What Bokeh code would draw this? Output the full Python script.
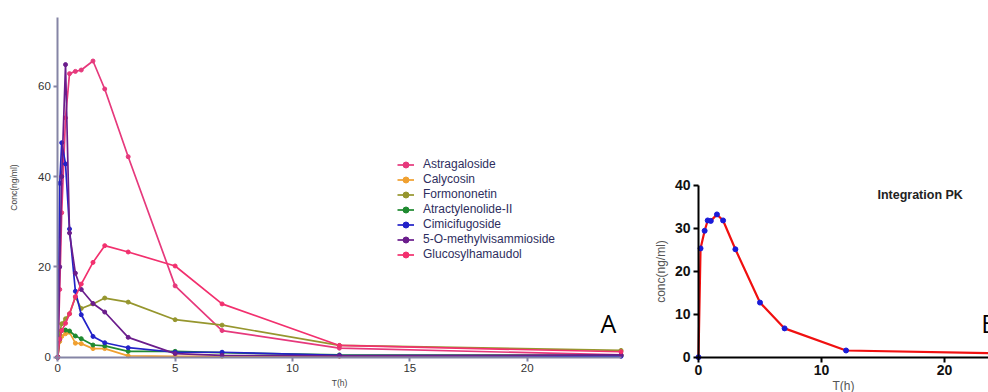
from bokeh.plotting import figure
from bokeh.layouts import row
from bokeh.models import Range1d, FixedTicker, Legend
from bokeh.core.properties import value
from bokeh.embed import file_html
from bokeh.resources import INLINE

# ---------------- data (panel A) ----------------
t_a = [0, 0.083, 0.167, 0.33, 0.5, 0.75, 1, 1.5, 2, 3, 5, 7, 12, 24]
astragaloside = [0, 15, 32, 53, 62.8, 63.3, 63.6, 65.6, 59.4, 44.4, 15.8, 5.9, 2.0, 0.5]
calycosin = [0, 3.5, 4.6, 5.2, 5.5, 3.1, 3.0, 1.9, 1.9, 0.3, 0.2, 0.2, 0.2, 0.3]
formononetin = [0, 5.5, 7.4, 8.5, 9.6, 13.3, 10.8, 11.8, 13.1, 12.2, 8.3, 7.1, 2.6, 1.5]
atractylenolide = [0, 4.0, 5.9, 6.0, 5.8, 4.7, 4.1, 2.7, 2.5, 1.3, 1.3, 1.0, 0.5, 0.4]
cimicifugoside = [0, 38.5, 47.5, 42.8, 28.4, 14.6, 9.4, 4.6, 3.2, 2.1, 1.1, 1.1, 0.4, 0.2]
methylvisammioside = [0, 20, 40, 64.8, 27.5, 18.6, 15.0, 11.9, 10.0, 4.4, 0.8, 0.4, 0.3, 0.5]
glucosylhamaudol = [0, 4.0, 5.9, 7.5, 9.6, 13.4, 16.2, 21.0, 24.7, 23.3, 20.2, 11.8, 2.6, 1.2]

series_names = ["Astragaloside", "Calycosin", "Formononetin", "Atractylenolide-II",
                "Cimicifugoside", "5-O-methylvisammioside", "Glucosylhamaudol"]
series_values = [astragaloside, calycosin, formononetin, atractylenolide,
                 cimicifugoside, methylvisammioside, glucosylhamaudol]
series_colors = ["#e6397c", "#f0a030", "#96962e", "#1f8a30",
                 "#2222c8", "#6b1d8c", "#f2306e"]

ticks_a_x = [0, 5, 10, 15, 20]
ticks_a_y = [0, 20, 40, 60]

# ---------------- data (panel B) ----------------
t_b = [0, 0.167, 0.5, 0.75, 1, 1.5, 2, 3, 5, 7, 12, 24]
integration_pk = [0, 25.3, 29.4, 31.8, 31.7, 33.2, 31.8, 25.1, 12.7, 6.7, 1.56, 0.9]
ticks_b_x = [0, 10, 20]
ticks_b_y = [0, 10, 20, 30, 40]

FONT = "Liberation Sans"

# ================= Panel A =================
pa = figure(width=640, height=392, output_backend="svg", toolbar_location=None,
            x_range=Range1d(-2.441, 24.83), y_range=Range1d(-7.82, 79.0),
            min_border_left=0, min_border_right=0, min_border_top=0, min_border_bottom=0)
pa.outline_line_color = None
pa.xgrid.visible = False
pa.ygrid.visible = False

axis_col = "#8585a5"
for ax in (pa.xaxis[0], pa.yaxis[0]):
    ax.fixed_location = 0
    ax.axis_line_color = axis_col
    ax.axis_line_width = 2
    ax.major_tick_line_color = axis_col
    ax.major_tick_line_width = 2
    ax.major_tick_out = 4
    ax.major_tick_in = 0
    ax.minor_tick_line_color = None
    ax.major_label_text_font = FONT
    ax.major_label_text_font_size = "11.5px"
    ax.major_label_text_color = "#333333"
    ax.major_label_standoff = 3
    ax.axis_label_text_font = FONT
    ax.axis_label_text_font_style = "normal"
    ax.axis_label_text_font_size = "8.5px"
    ax.axis_label_text_color = "#444444"
pa.xaxis[0].bounds = (0, 24)
pa.yaxis[0].bounds = (0, 75.2)
pa.xaxis[0].ticker = FixedTicker(ticks=ticks_a_x)
pa.yaxis[0].ticker = FixedTicker(ticks=ticks_a_y)
pa.xaxis[0].axis_label = "T(h)"
pa.xaxis[0].axis_label_standoff = 2
pa.yaxis[0].axis_label = "Conc(ng/ml)"
pa.yaxis[0].axis_label_standoff = 16

legend_items = []
for name, vals, col in zip(series_names, series_values, series_colors):
    r1 = pa.line(t_a, vals, line_color=col, line_width=1.7)
    r2 = pa.scatter(t_a, vals, size=4, fill_color=col, line_color=col)
    legend_items.append((name, [r1, r2]))

leg = Legend(items=legend_items, location=(397, 130.2))
leg.background_fill_alpha = 0
leg.border_line_alpha = 0
leg.padding = 0
leg.margin = 0
leg.spacing = 0
leg.label_height = 15
leg.glyph_height = 15
leg.glyph_width = 17
leg.label_standoff = 9
leg.label_text_font = FONT
leg.label_text_font_size = "12px"
leg.label_text_color = "#2e2e5e"
pa.add_layout(leg, "center")

pa.text(x=[23.46], y=[3.9], text=["A"], text_font=value("Open Sans"),
        text_font_size="25px", text_align="center", text_baseline="bottom",
        text_color="#000000")

# ================= Panel B =================
pb = figure(width=348, height=392, output_backend="svg", toolbar_location=None,
            x_range=Range1d(-4.715, 23.58), y_range=Range1d(-8.21, 82.95),
            min_border_left=0, min_border_right=0, min_border_top=0, min_border_bottom=0)
pb.outline_line_color = None
pb.xgrid.visible = False
pb.ygrid.visible = False
for ax in (pb.xaxis[0], pb.yaxis[0]):
    ax.fixed_location = 0
    ax.axis_line_color = "#000000"
    ax.axis_line_width = 2
    ax.major_tick_line_color = "#000000"
    ax.major_tick_line_width = 2
    ax.major_tick_out = 5
    ax.major_tick_in = 0
    ax.minor_tick_line_color = None
    ax.major_label_text_font = FONT
    ax.major_label_text_font_style = "bold"
    ax.major_label_text_font_size = "14px"
    ax.major_label_text_color = "#111111"
    ax.major_label_standoff = 3
    ax.axis_label_text_font = FONT
    ax.axis_label_text_font_style = "normal"
    ax.axis_label_text_font_size = "12px"
    ax.axis_label_text_color = "#555555"
pb.xaxis[0].bounds = (0, 24)
pb.yaxis[0].bounds = (0, 40)
pb.xaxis[0].ticker = FixedTicker(ticks=ticks_b_x)
pb.yaxis[0].ticker = FixedTicker(ticks=ticks_b_y)
pb.xaxis[0].axis_label = "T(h)"
pb.xaxis[0].axis_label_standoff = 0
pb.yaxis[0].axis_label = "conc(ng/ml)"
pb.yaxis[0].axis_label_standoff = 4

pb.line(t_b, integration_pk, line_color="#f01010", line_width=2.2)
pb.scatter(t_b, integration_pk, size=5, fill_color="#1a1ad8", line_color="#1a1ad8")

pb.text(x=[14.55], y=[37.8], text=["Integration PK"], text_font=value(FONT),
        text_font_style="bold", text_font_size="12.5px", text_align="left",
        text_baseline="middle", text_color="#222222")
pb.text(x=[23.0], y=[4.1], text=["B"], text_font=value("Open Sans"),
        text_font_size="25px", text_align="left", text_baseline="bottom",
        text_color="#000000")

layout = row(pa, pb)
open("out.html", "w").write(file_html(layout, INLINE))
